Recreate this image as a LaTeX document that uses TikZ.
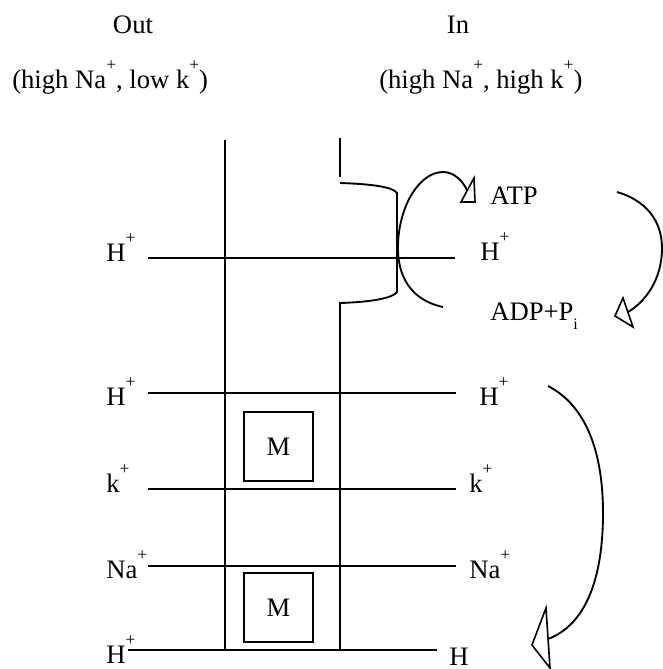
\documentclass[tikz,border=0pt]{standalone}
\usepackage{fontspec}
\setmainfont{Liberation Serif}
\newcommand\plusup{\raisebox{13pt}{\fontsize{13}{13}\selectfont +}}
\newcommand\isub{\raisebox{-7pt}{\fontsize{12}{12}\selectfont i}}
\begin{document}
\begin{tikzpicture}[x=0.75pt,y=-0.75pt,
  lbl/.style={anchor=base west,inner sep=0pt,font=\fontsize{20}{24}\selectfont},
  ctr/.style={anchor=base,inner sep=0pt,font=\fontsize{20}{24}\selectfont},
  ln/.style={line width=1.4pt},
  arcl/.style={line width=1.4pt},
  headtri/.style={line width=1.2pt,fill=white,line join=miter},
  mbox/.style={draw,line width=1.4pt,minimum width=69*0.75pt,minimum height=69*0.75pt,inner sep=0pt,font=\fontsize{20}{24}\selectfont}]
\useasboundingbox (0,0) rectangle (663,669);

% header
\node[ctr] (out) at (133,33) {Out};
\node[ctr] (in) at (458,33) {In};
\node[lbl] (outc) at (12,88) {(high Na\plusup, low k\plusup)};
\node[lbl] (inc) at (379,88) {(high Na\plusup, high k\plusup)};

% membrane
\coordinate (lt) at (225,140);
\coordinate (lb) at (225,650);
\draw[ln] (lt) -- (lb);
\coordinate (rt) at (340,138);
\coordinate (rt2) at (340,177);
\draw[ln] (rt) -- (rt2);
\coordinate (bs) at (340,183);
\coordinate (be) at (340,303);
\coordinate (rb) at (340,650);
\draw[ln] (bs) .. controls (372,184) and (393,187) .. (397,193)
  -- (397,292) .. controls (393,298) and (372,302) .. (be) -- (rb);

% left labels
\node[lbl] (hl1) at (106,261) {H\plusup};
\node[lbl] (hl2) at (106,405) {H\plusup};
\node[lbl] (kl) at (106,492) {k\plusup};
\node[lbl] (nal) at (106,578) {Na\plusup};
\node[lbl] (hl3) at (106,663) {H\plusup};

% right labels
\node[lbl] (hr1) at (480,260) {H\plusup};
\node[lbl] (hr2) at (479,405) {H\plusup};
\node[lbl] (kr) at (469,492) {k\plusup};
\node[lbl] (nar) at (469,578) {Na\plusup};
\node[lbl] (hr3) at (449,665) {H};
\node[lbl] (atp) at (490,204) {ATP};
\node[lbl] (adp) at (490,320) {ADP+P\isub};

% horizontal paths
\coordinate (a1) at (148,258); \coordinate (b1) at (455,258);
\coordinate (a2) at (148,393); \coordinate (b2) at (456,393);
\coordinate (a3) at (148,489); \coordinate (b3) at (456,489);
\coordinate (a4) at (148,566); \coordinate (b4) at (456,566);
\coordinate (a5) at (128,650); \coordinate (b5) at (437,650);
\draw[ln] (a1) -- (b1);
\draw[ln] (a2) -- (b2);
\draw[ln] (a3) -- (b3);
\draw[ln] (a4) -- (b4);
\draw[ln] (a5) -- (b5);

% M boxes
\node[mbox] (m1) at (278.5,446.5) {M};
\node[mbox] (m2) at (278.5,607.5) {M};

% ATP cycle arrow
\draw[arcl] (443,307) .. controls (410,300) and (397,275) .. (398,245)
  .. controls (399,205) and (420,172) .. (443,172)
  .. controls (455,172) and (463,182) .. (467,190);
\draw[headtri] (461,202) -- (474,178) -- (475,202) -- cycle;

% right upper arrow
\draw[arcl] (617,192) .. controls (645,200) and (662,220) .. (662,248)
  .. controls (662,280) and (645,302) .. (628,312);
\draw[headtri] (615,316) -- (623,298) -- (633,327) -- cycle;

% lower arrow
\draw[arcl] (548,386) .. controls (585,405) and (603,450) .. (603,513)
  .. controls (603,580) and (585,625) .. (548,639);
\draw[headtri] (532,645) -- (546,608) -- (550,668) -- cycle;
\end{tikzpicture}
\end{document}
